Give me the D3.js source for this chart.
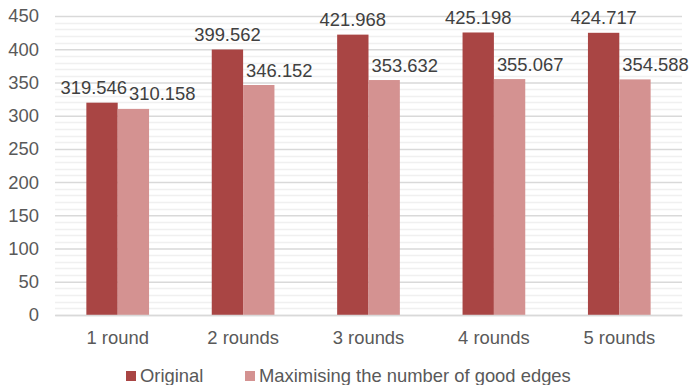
<!DOCTYPE html>
<html>
<head>
<meta charset="utf-8">
<script src="https://cdn.jsdelivr.net/npm/d3@7"></script>
<style>
  html, body { margin: 0; padding: 0; background: #fff; }
  svg { display: block; font-family: "Liberation Sans", Arial, sans-serif; }
</style>
</head>
<body>
<svg id="chart" width="691" height="385"></svg>
<script>
// Chart data
const categories = ["1 round", "2 rounds", "3 rounds", "4 rounds", "5 rounds"];
const seriesNames = ["Original", "Maximising the number of good edges"];
const original = [319.546, 399.562, 421.968, 425.198, 424.717];
const maximising = [310.158, 346.152, 353.632, 355.067, 354.588];
const yTicks = [0, 50, 100, 150, 200, 250, 300, 350, 400, 450];

const colors = ["#A94544", "#D49291"];
const fontSize = 18.4;
const width = 691, height = 385;
const margin = { top: 16, right: 9, bottom: 70, left: 55 };
const plotW = width - margin.left - margin.right;
const plotH = height - margin.top - margin.bottom;

const svg = d3.select("#chart");
const g = svg.append("g").attr("transform", `translate(${margin.left},${margin.top})`);

const x = d3.scaleBand().domain(categories).range([0, plotW]).paddingInner(0.5).paddingOuter(0.25);
const xs = d3.scaleBand().domain([0, 1]).range([0, x.bandwidth()]);
const y = d3.scaleLinear().domain([0, 450]).range([plotH, 0]);

// Minor gridlines every 10
g.append("g").selectAll("line")
  .data(d3.range(10, 450, 10).filter(v => v % 50 !== 0))
  .join("line")
  .attr("x1", 0).attr("x2", plotW)
  .attr("y1", d => Math.round(y(d)) + 0.5).attr("y2", d => Math.round(y(d)) + 0.5)
  .attr("stroke", "#F0F0F0").attr("stroke-width", 1.5);

// Major gridlines
const yAxis = d3.axisLeft(y).tickValues(yTicks).tickSize(-plotW).tickPadding(16);
const ya = g.append("g").call(yAxis);
ya.select(".domain").remove();
ya.selectAll(".tick line").attr("stroke", "#D9D9D9").attr("stroke-width", 1.5);
ya.selectAll(".tick text")
  .attr("fill", "#595959").attr("font-size", fontSize)
  .attr("font-family", "Liberation Sans, Arial, sans-serif");

// Bars
const series = [original, maximising];
series.forEach((vals, si) => {
  g.append("g").selectAll("rect")
    .data(categories.map((c, i) => ({ c, v: vals[i] })))
    .join("rect")
    .attr("x", d => x(d.c) + xs(si))
    .attr("width", xs.bandwidth())
    .attr("y", d => y(d.v))
    .attr("height", d => plotH - y(d.v))
    .attr("fill", colors[si]);
});

// Baseline axis
const xa = g.append("g").attr("transform", `translate(0,${plotH})`)
  .call(d3.axisBottom(x).tickSize(0).tickPadding(16));
xa.select(".domain").attr("stroke", "#D9D9D9").attr("stroke-width", 1.5);
xa.selectAll(".tick text")
  .attr("fill", "#595959").attr("font-size", fontSize)
  .attr("font-family", "Liberation Sans, Arial, sans-serif");

// Data labels
const labelLayer = g.append("g")
  .attr("font-size", fontSize).attr("fill", "#404040");
categories.forEach((c, i) => {
  const bx0 = x(c) + xs(0), bx1 = x(c) + xs(1), bw = xs.bandwidth();
  const t0 = labelLayer.append("text").text(original[i].toFixed(3))
    .attr("y", y(original[i]) - 8.5).attr("text-anchor", "start");
  const t1 = labelLayer.append("text").text(maximising[i].toFixed(3))
    .attr("y", y(maximising[i]) - 8.5).attr("text-anchor", "start");
  const w0 = t0.node().getComputedTextLength();
  let l0 = bx0 + bw / 2 - w0 / 2;
  let l1 = bx1 + 3;
  // Push labels apart when they collide
  const top0 = y(original[i]) - 22, top1 = y(maximising[i]) - 22;
  const vOverlap = Math.abs(top0 - top1) < 16;
  const overlap = (l0 + w0 + 2) - l1;
  if (vOverlap && overlap > 0) { l0 -= overlap / 2; l1 += overlap / 2; }
  t0.attr("x", l0);
  t1.attr("x", l1);
});

// Legend
const legend = svg.append("g").attr("transform", "translate(0,376)");
const legendItems = [{ x: 126 }, { x: 245 }];
seriesNames.forEach((name, i) => {
  const it = legend.append("g").attr("transform", `translate(${legendItems[i].x},0)`);
  it.append("rect").attr("x", 0).attr("y", -5).attr("width", 10).attr("height", 10).attr("fill", colors[i]);
  it.append("text").attr("x", 14).attr("y", 6).text(name)
    .attr("font-size", fontSize).attr("fill", "#595959");
});
</script>
</body>
</html>
